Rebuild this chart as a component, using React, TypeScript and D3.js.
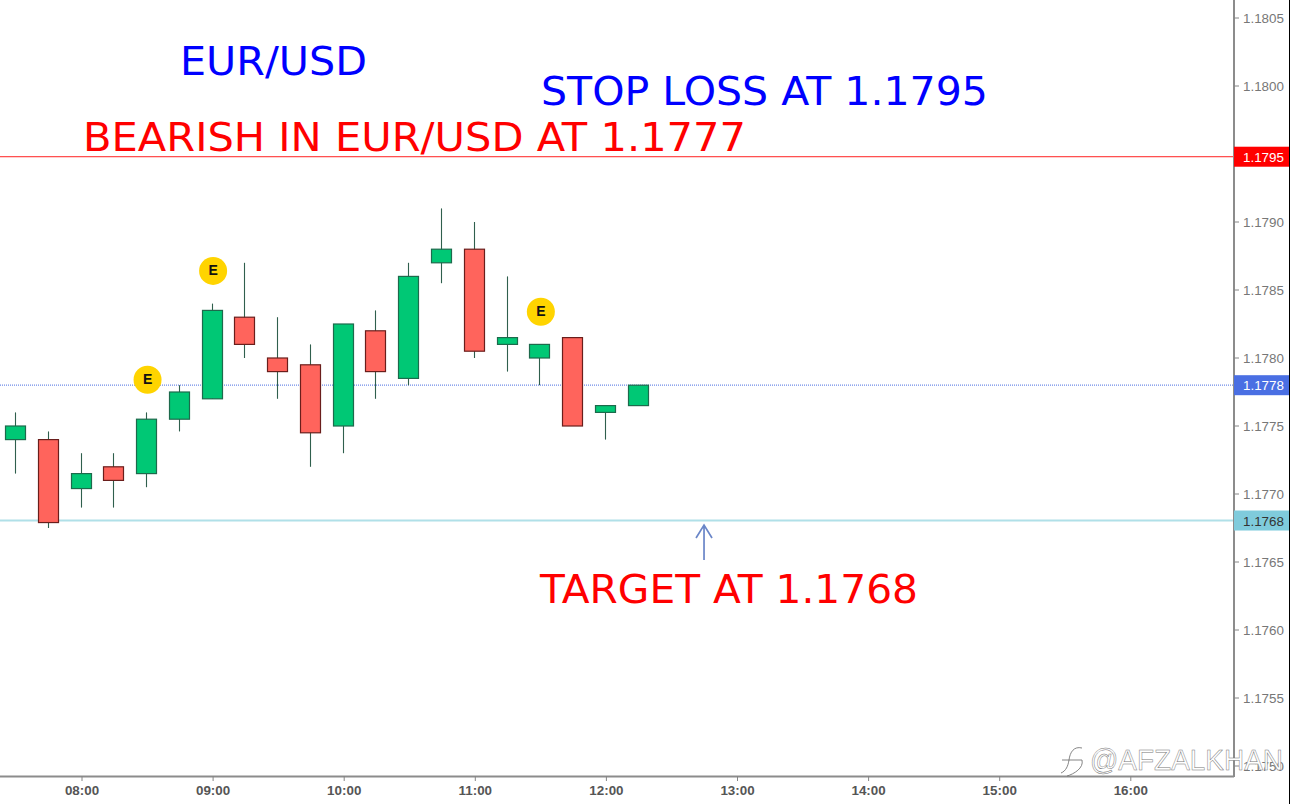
// EUR/USD 15m candlestick chart with trade levels and annotations
import { useMemo } from "react"
import * as d3 from "d3"

const WIDTH = 1297
const HEIGHT = 804
const margin = { top: 0, right: 63, bottom: 28, left: 0 }

const startHour = 7.5
const opens = [1.1774, 1.1774, 1.17704, 1.1772, 1.17715, 1.17755, 1.1777, 1.1783, 1.178, 1.17795, 1.1775, 1.1782, 1.17785, 1.1787, 1.1788, 1.1781, 1.178, 1.17815, 1.1776, 1.17765]
const highs = [1.1776, 1.17746, 1.1773, 1.1773, 1.1776, 1.1778, 1.1784, 1.1787, 1.1783, 1.1781, 1.17825, 1.17835, 1.1787, 1.1791, 1.179, 1.1786, 1.1781, 1.17815, 1.17765, 1.1778]
const lows = [1.17715, 1.17675, 1.1769, 1.1769, 1.17705, 1.17746, 1.1777, 1.178, 1.1777, 1.1772, 1.1773, 1.1777, 1.1778, 1.17855, 1.178, 1.1779, 1.1778, 1.1775, 1.1774, 1.17765]
const closes = [1.1775, 1.17679, 1.17715, 1.1771, 1.17755, 1.17775, 1.17835, 1.1781, 1.1779, 1.17745, 1.17825, 1.1779, 1.1786, 1.1788, 1.17805, 1.17815, 1.1781, 1.1775, 1.17765, 1.1778]

// 1.1795 sits behind the stop label, so it has no plain tick text
const priceTicks = [1.1805, 1.18, 1.179, 1.1785, 1.178, 1.1775, 1.177, 1.1765, 1.176, 1.1755, 1.175]
const hourTicks = [8, 9, 10, 11, 12, 13, 14, 15, 16]

const earningsHours = [8.5, 9, 11.5]
const earningsPrices = [1.17784, 1.17864, 1.17834]

const stopLevel = 1.17948
const lastLevel = 1.1778
const targetLevel = 1.176805

const UP = "#00c875"
const DOWN = "#ff645c"

export default function App() {
  const x = useMemo(() => d3.scaleLinear().domain([8, 16]).range([81, 1129.8]), [])
  const y = useMemo(() => d3.scaleLinear().domain([1.178, 1.1755]).range([358, 698]), [])
  const plotRight = WIDTH - margin.right
  const plotBottom = HEIGHT - margin.bottom
  const bodyW = 20

  const labels = [
    { level: stopLevel, text: "1.1795", fill: "#ff0000", color: "#fff" },
    { level: lastLevel, text: "1.1778", fill: "#4a6fe3", color: "#fff" },
    { level: targetLevel, text: "1.1768", fill: "#7fcbdc", color: "#333" },
  ]

  const arrowX = x(12.75) + 0.3

  return (
    <svg
      width={WIDTH}
      height={HEIGHT}
      style={{ position: "fixed", left: 0, top: 0, background: "#fff", display: "block" }}
      fontFamily="'Liberation Sans', Arial, sans-serif"
    >
      {/* level lines */}
      <line x1={0} x2={plotRight} y1={y(stopLevel)} y2={y(stopLevel)} stroke="#ff2020" strokeWidth={1} />
      <line x1={0} x2={plotRight} y1={y(lastLevel)} y2={y(lastLevel)} stroke="#6f8be8" strokeWidth={1.2} strokeDasharray="1 1" />
      <line x1={0} x2={plotRight} y1={y(targetLevel)} y2={y(targetLevel)} stroke="#b0e0e8" strokeWidth={2} />

      {/* candles */}
      {opens.map((o, i) => {
        const h = startHour + i * 0.25
        const cx = Math.floor(x(h)) + 0.5
        const c = closes[i]
        const top = y(Math.max(o, c))
        const bottom = y(Math.min(o, c))
        return (
          <g key={i}>
            <line x1={cx} x2={cx} y1={y(highs[i])} y2={y(lows[i])} stroke="#2f5f4d" strokeWidth={1.1} />
            <rect
              x={cx - bodyW / 2}
              y={top}
              width={bodyW}
              height={bottom - top}
              fill={c >= o ? UP : DOWN}
              stroke={c >= o ? "#1d6a4c" : "#6a1e1c"}
              strokeWidth={1.2}
            />
          </g>
        )
      })}

      {/* earnings markers */}
      {earningsHours.map((h, i) => (
        <g key={h} transform={`translate(${x(h) + 1},${y(earningsPrices[i])})`}>
          <circle r={14} fill="#ffd400" />
          <text textAnchor="middle" dy={4} fontSize={14} fontWeight="bold" fill="#111">E</text>
        </g>
      ))}

      {/* annotations */}
      <g fontFamily="'DejaVu Sans', sans-serif" fontSize={38.5} lengthAdjust="spacingAndGlyphs">
        <text x={180} y={74.5} fill="#0000ff" textLength={187} lengthAdjust="spacingAndGlyphs">EUR/USD</text>
        <text x={541} y={104.5} fill="#0000ff" textLength={447} lengthAdjust="spacingAndGlyphs">STOP LOSS AT 1.1795</text>
        <text x={83} y={150.5} fill="#ff0000" textLength={663} lengthAdjust="spacingAndGlyphs">BEARISH IN EUR/USD AT 1.1777</text>
        <text x={540} y={602.5} fill="#ff0000" textLength={378} lengthAdjust="spacingAndGlyphs">TARGET AT 1.1768</text>
      </g>
      <path
        d={`M${arrowX},560 V525 M${arrowX - 8},538 L${arrowX},525 L${arrowX + 8},538`}
        fill="none"
        stroke="#6a86c8"
        strokeWidth={1.7}
      />

      {/* price axis */}
      <line x1={plotRight} x2={plotRight} y1={0} y2={plotBottom + 1} stroke="#8c8c8c" strokeWidth={2} />
      {priceTicks.map((t) => (
        <g key={t} transform={`translate(${plotRight},${y(t)})`}>
          <line x1={0} x2={5} stroke="#868686" />
          <text x={9} dy={5} fontSize={13.4} fill="#777">{d3.format(".4f")(t)}</text>
        </g>
      ))}
      {labels.map((l) => (
        <g key={l.text} transform={`translate(${plotRight},${y(l.level)})`}>
          <rect x={0} y={-10} width={55} height={20} fill={l.fill} />
          <text x={9} dy={5} fontSize={13.4} fill={l.color}>{l.text}</text>
        </g>
      ))}

      {/* time axis */}
      <line x1={0} x2={plotRight} y1={plotBottom + 0.5} y2={plotBottom + 0.5} stroke="#8c8c8c" strokeWidth={2} />
      {hourTicks.map((h) => (
        <g key={h} transform={`translate(${x(h) + 1},${plotBottom})`}>
          <line y1={0} y2={5} stroke="#868686" />
          <text textAnchor="middle" y={19} fontSize={13.4} fontWeight="bold" fill="#555">{`${String(h).padStart(2, "0")}:00`}</text>
        </g>
      ))}

      {/* right frame */}
      <line x1={1289.5} x2={1289.5} y1={0} y2={HEIGHT} stroke="#000" strokeWidth={1} />

      {/* watermark */}
      <path
        d="M1082,748 C1074,746 1070,752 1069,760 C1068,766 1066,771 1061,773 M1062,760 L1082,760 C1084,768 1074,774 1067,776"
        fill="none"
        stroke="#777"
        strokeWidth={0.9}
      />
      <text
        x={1090}
        y={770}
        fontSize={30}
        fill="#fff"
        stroke="#777"
        strokeWidth={0.5}
        fontFamily="'Liberation Sans', sans-serif"
        textLength={193}
        lengthAdjust="spacingAndGlyphs"
      >@AFZALKHAN</text>
    </svg>
  )
}
